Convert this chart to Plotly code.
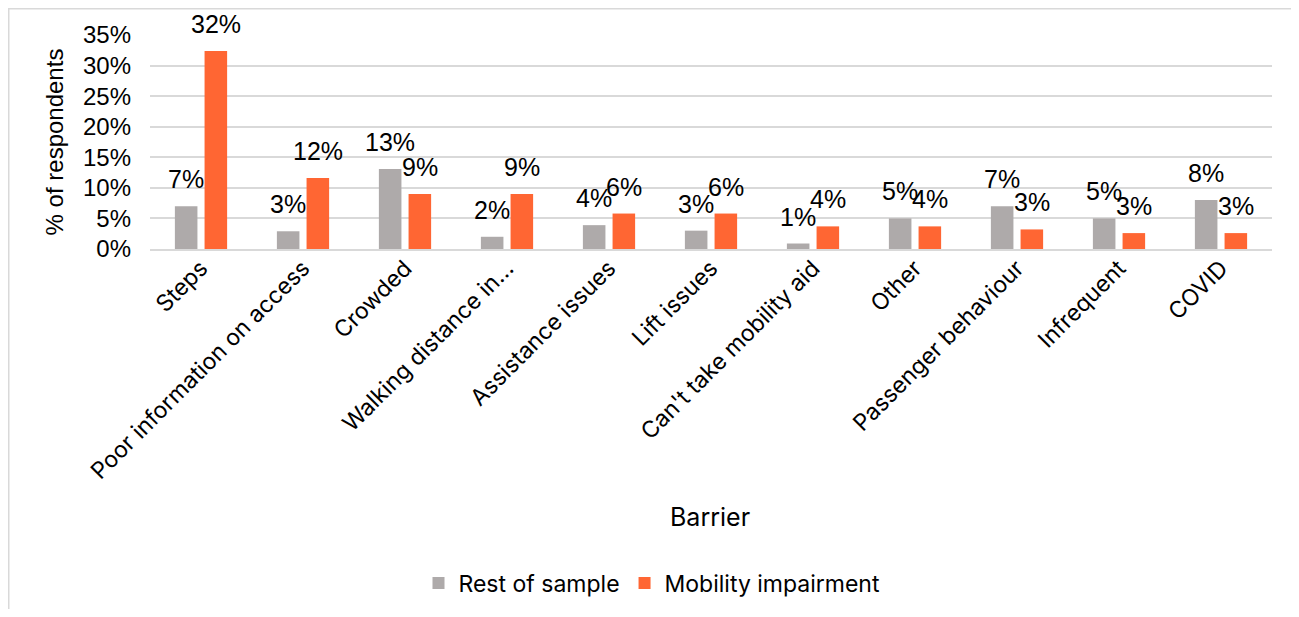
import plotly.graph_objects as go

categories = ["Steps", "Poor information on access", "Crowded", "Walking distance in…",
              "Assistance issues", "Lift issues", "Can't take mobility aid", "Other",
              "Passenger behaviour", "Infrequent", "COVID"]
rest_of_sample = [7.0, 2.9, 13.1, 2.0, 3.9, 3.0, 0.9, 5.0, 7.0, 5.0, 8.0]
mobility_impairment = [32.4, 11.6, 9.0, 9.0, 5.8, 5.8, 3.7, 3.7, 3.2, 2.6, 2.6]
y_ticks = [0, 5, 10, 15, 20, 25, 30, 35]
y_tick_labels = [f"{v}%" for v in y_ticks]

OFF = 8  # page body margin
W, H = 1283, 601
L, T = 142, 27
R = W - (1272 - OFF)
B = H - (249 - OFF)
pw, ph = W - L - R, H - T - B

def px(x):
    return (x - OFF - L) / pw

def py(y):
    return (H - B - (y - OFF)) / ph

arial = "Liberation Sans, Arial"
ui_font = "Inter, Lato, sans-serif"
lab_font = dict(family=arial, size=25, color="#000000")

GREY = "#AEAAAA"
ORANGE = "#FF6633"

fig = go.Figure()
fig.add_trace(go.Bar(name="Rest of sample", x=categories, y=rest_of_sample,
                     marker=dict(color=GREY, line=dict(width=0))))
fig.add_trace(go.Bar(name="Mobility impairment", x=categories, y=mobility_impairment,
                     marker=dict(color=ORANGE, line=dict(width=0))))

annotations = []
for series, shift in ((rest_of_sample, -14.8), (mobility_impairment, 14.8)):
    for c, v in zip(categories, series):
        annotations.append(dict(x=c, y=v, xref="x", yref="y", text=f"{round(v):.0f}%",
                                showarrow=False, xanchor="center", yanchor="bottom",
                                xshift=shift, yshift=11, font=lab_font))
annotations.append(dict(text="Barrier", x=px(710), y=py(517), xref="paper", yref="paper",
                        showarrow=False, xanchor="center", yanchor="middle",
                        font=dict(family=ui_font, size=25, color="#000000")))

fig.update_layout(
    width=W, height=H,
    margin=dict(l=L, r=R, t=T, b=B, autoexpand=False),
    paper_bgcolor="white", plot_bgcolor="white",
    barmode="group", bargap=0.418, bargroupgap=0.24,
    showlegend=True,
    legend=dict(orientation="h", x=px(652), y=py(583), xanchor="center", yanchor="middle",
                font=dict(family=ui_font, size=23, color="#000000"),
                tracegroupgap=0),
    xaxis=dict(tickangle=-45, tickfont=dict(family=ui_font, size=23, color="#000000"),
               ticklabelstandoff=-5,
               showgrid=False, showline=True, linecolor="#D9D9D9", linewidth=1.5,
               ticks="", automargin=False),
    yaxis=dict(range=[0, 35], tickvals=y_ticks, ticktext=y_tick_labels,
               tickfont=dict(family=arial, size=24, color="#000000"),
               ticklabelstandoff=18,
               showgrid=True, gridcolor="#D9D9D9", gridwidth=1.5, zeroline=False,
               showline=False, ticks="", automargin=False,
               title=dict(text="% of respondents",
                          font=dict(family=arial, size=24, color="#000000"),
                          standoff=12)),
    annotations=annotations,
    shapes=[dict(type="rect", xref="paper", yref="paper",
                 x0=px(8.75), x1=px(1330), y0=py(660), y1=py(8.75),
                 line=dict(color="#D9D9D9", width=1.5), fillcolor="rgba(0,0,0,0)", layer="below")],
)

fig.write_html("out.html")
